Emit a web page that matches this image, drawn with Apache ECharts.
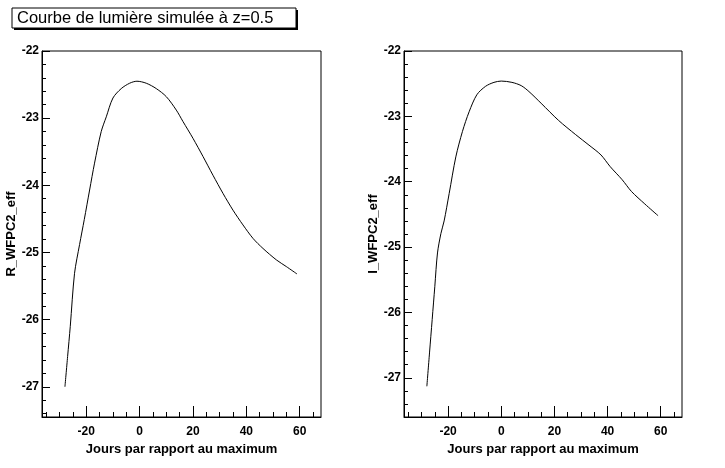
<!DOCTYPE html>
<html>
<head>
<meta charset="utf-8">
<script src="https://cdn.jsdelivr.net/npm/echarts@6/dist/echarts.min.js"></script>
<style>
  html, body { margin: 0; padding: 0; background: #ffffff; }
  #chartContainer { width: 725px; height: 468px; }
</style>
</head>
<body>
<div id="chartContainer"></div>
<script>
const titleText = "Courbe de lumière simulée à z=0.5";
const xTitle = "Jours par rapport au maximum";
const yTitles = ["R_WFPC2_eff", "I_WFPC2_eff"];

// tick labels
const xMajorTicks = [-20, 0, 20, 40, 60];
const xMinorTicks = [-35, -30, -25, -15, -10, -5, 5, 10, 15, 25, 30, 35, 45, 50, 55, 65];
const yMajorTicks = [-27, -26, -25, -24, -23, -22];

// courbe R (panneau gauche)
const rDays = [-28, -27, -26, -24.4, -22.5, -20.75, -18.75, -16.9, -14.4, -12.5, -10, -6.9, -3.75, -1,
    2.5, 6.25, 10, 13.75, 16.25, 20, 23.75, 27.5, 31.25, 35, 38.75, 42.5, 46.25, 51.25, 55, 59];
const rMag = [-27.0, -26.55, -26.1, -25.31, -24.88, -24.51, -24.07, -23.67, -23.2, -22.98, -22.70, -22.56, -22.48, -22.45,
    -22.48, -22.56, -22.68, -22.88, -23.05, -23.30, -23.57, -23.85, -24.12, -24.37, -24.59, -24.79, -24.94, -25.11, -25.21, -25.32];

// courbe I (panneau droit)
const iDays = [-28, -27, -26, -25, -24, -22.7, -21.5, -19.6, -17.1, -14.6, -12.1, -9.2, -5.9, -2.75, 0,
    4, 7.5, 10.4, 15, 21.5, 28, 33, 37.5, 41, 45.5, 49, 54, 59];
const iMag = [-27.13, -26.62, -26.11, -25.6, -25.09, -24.79, -24.6, -24.18, -23.62, -23.23, -22.93, -22.67, -22.54, -22.48, -22.46,
    -22.48, -22.53, -22.62, -22.80, -23.06, -23.28, -23.44, -23.59, -23.77, -23.97, -24.15, -24.34, -24.52];

const xRange = [-36.6, 68];
const yRanges = [[-27.45, -22], [-27.6, -22]];

const minorY = (min) => {
    const out = [];
    for (let v = -22.2; v > min; v -= 0.2) {
        const r = Math.round(v * 10) / 10;
        if (Math.abs(r - Math.round(r)) > 0.01) out.push(r);
    }
    return out;
};

const font = { fontFamily: 'Liberation Sans', fontWeight: 'bold', color: '#000' };

const makeX = (gridIndex, minor) => ({
    type: 'value',
    gridIndex: gridIndex,
    position: 'bottom',
    min: xRange[0],
    max: xRange[1],
    name: minor ? '' : xTitle,
    nameLocation: 'middle',
    nameGap: 22,
    nameTextStyle: Object.assign({ fontSize: 13 }, font),
    axisLine: { show: !minor, onZero: false, lineStyle: { color: '#000', width: 1 } },
    axisTick: {
        show: true,
        inside: true,
        length: minor ? 5 : 11,
        customValues: minor ? xMinorTicks : xMajorTicks,
        lineStyle: { color: '#000', width: 1 }
    },
    axisLabel: Object.assign({
        show: !minor,
        fontSize: 12,
        margin: 9,
        customValues: xMajorTicks
    }, font),
    splitLine: { show: false }
});

const makeY = (gridIndex, minor) => ({
    type: 'value',
    gridIndex: gridIndex,
    position: 'left',
    min: yRanges[gridIndex][0],
    max: yRanges[gridIndex][1],
    name: minor ? '' : yTitles[gridIndex],
    nameLocation: 'middle',
    nameGap: 14,
    nameTextStyle: Object.assign({ fontSize: 13 }, font),
    axisLine: { show: !minor, onZero: false, lineStyle: { color: '#000', width: 1 } },
    axisTick: {
        show: true,
        inside: true,
        length: minor ? 4 : 8,
        customValues: minor ? minorY(yRanges[gridIndex][0]) : yMajorTicks,
        lineStyle: { color: '#000', width: 1 }
    },
    axisLabel: Object.assign({
        show: !minor,
        fontSize: 12,
        margin: 3,
        customValues: yMajorTicks
    }, font),
    splitLine: { show: false }
});

const chart = echarts.init(document.getElementById('chartContainer'));

const option = {
    backgroundColor: '#ffffff',
    animation: false,
    graphic: [
        { type: 'rect', shape: { x: 14, y: 10, width: 284, height: 20 }, style: { fill: '#000' } },
        { type: 'rect', shape: { x: 12, y: 8, width: 284, height: 20 }, style: { fill: '#fff', stroke: '#000', lineWidth: 1 } },
        {
            type: 'text', x: 17, y: 18.5,
            style: { text: titleText, font: '16.5px "Liberation Sans"', fill: '#000', verticalAlign: 'middle' }
        }
    ],
    grid: [
        { left: 42, top: 51, width: 279, height: 366, show: true, borderColor: '#000', borderWidth: 1, backgroundColor: '#fff' },
        { left: 404, top: 51, width: 278, height: 366, show: true, borderColor: '#000', borderWidth: 1, backgroundColor: '#fff' }
    ],
    xAxis: [makeX(0, false), makeX(0, true), makeX(1, false), makeX(1, true)],
    yAxis: [makeY(0, false), makeY(0, true), makeY(1, false), makeY(1, true)],
    series: [
        {
            name: 'R',
            type: 'line',
            xAxisIndex: 0,
            yAxisIndex: 0,
            data: rDays.map((d, i) => [d, rMag[i]]),
            showSymbol: false,
            smooth: 0.3,
            lineStyle: { color: '#000', width: 1 }
        },
        {
            name: 'I',
            type: 'line',
            xAxisIndex: 2,
            yAxisIndex: 2,
            data: iDays.map((d, i) => [d, iMag[i]]),
            showSymbol: false,
            smooth: 0.3,
            lineStyle: { color: '#000', width: 1 }
        }
    ]
};

chart.setOption(option);
</script>
</body>
</html>
